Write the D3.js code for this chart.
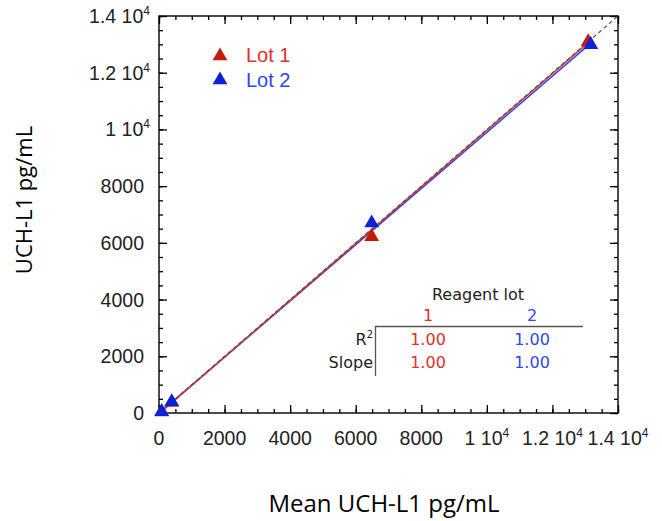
<!DOCTYPE html>
<html><head><meta charset="utf-8">
<script src="https://cdn.jsdelivr.net/npm/d3@7"></script>
<style>body{margin:0;background:#fff}svg{display:block}</style>
</head><body>
<svg id="c" width="662" height="521"></svg>
<script>
const lot1 = [[80,40],[390,370],[6487,6217],[13090,13090]];
const lot2 = [[82,46],[387,398],[6487,6700],[13170,12990]];
const seriesNames = ["Lot 1","Lot 2"];
const xTicks = [0,2000,4000,6000,8000,10000,12000,14000];
const yTicks = [0,2000,4000,6000,8000,10000,12000,14000];
const tickLabels = {0:["0"],2000:["2000"],4000:["4000"],6000:["6000"],8000:["8000"],10000:["1 10","4"],12000:["1.2 10","4"],14000:["1.4 10","4"]};
const tableCols = ["1","2"];
const tableRows = ["R","Slope"];
const tableValues = [["1.00","1.00"],["1.00","1.00"]];

const svg = d3.select("#c");
const L=159,R=618,T=16,B=413;
const x = d3.scaleLinear().domain([0,14000]).range([L,R]);
const y = d3.scaleLinear().domain([0,14000]).range([B,T]);
const minor = d3.range(0,14001,500);
const font = "Liberation Sans, Arial, sans-serif";

function tickSet(axisGen, transform){
  const g = svg.append("g").attr("transform",transform)
    .call(axisGen.tickValues(minor).tickFormat("").tickSize(4).tickSizeOuter(0));
  g.select(".domain").remove();
  g.selectAll("line").attr("stroke","#000").attr("stroke-width",1.3);
  const g2 = svg.append("g").attr("transform",transform)
    .call(axisGen.tickValues(xTicks).tickFormat("").tickSize(8).tickSizeOuter(0));
  g2.select(".domain").remove();
  g2.selectAll("line").attr("stroke","#000").attr("stroke-width",1.3);
}
tickSet(d3.axisTop(x), `translate(0,${B})`);
tickSet(d3.axisBottom(x), `translate(0,${T})`);
tickSet(d3.axisRight(y), `translate(${L},0)`);
tickSet(d3.axisLeft(y), `translate(${R},0)`);
svg.append("rect").attr("x",L).attr("y",T).attr("width",R-L).attr("height",B-T)
  .attr("fill","none").attr("stroke","#000").attr("stroke-width",1.4);

function lab(sel, v){
  const t = tickLabels[v];
  sel.text(t[0]);
  if(t.length>1) sel.append("tspan").attr("dy",-8).attr("font-size",12).text(t[1]);
}
xTicks.forEach(v=>{
  const t = svg.append("text").attr("x",x(v)).attr("y",445).attr("text-anchor","middle")
    .attr("font-family",font).attr("font-size",19.5).attr("fill","#222");
  lab(t,v);
});
yTicks.forEach(v=>{
  const t = svg.append("text").attr("x",v>=10000?150:144).attr("y",y(v)+7).attr("text-anchor","end")
    .attr("font-family",font).attr("font-size",19.5).attr("fill","#222");
  lab(t,v);
});

function fit(d){
  const mx=d3.mean(d,p=>p[0]), my=d3.mean(d,p=>p[1]);
  const b=d3.sum(d,p=>(p[0]-mx)*(p[1]-my))/d3.sum(d,p=>(p[0]-mx)**2);
  return [b,my-b*mx];
}
const colors = ["#e0312a","#2f47f0"];
const markColors = ["#c41a0c","#0a22d6"];
const offs = [[-0.9,-0.9],[0.9,0.9]];
[1,0].forEach(i=>{
  const d=[lot1,lot2][i];
  const [b,a]=fit(d);
  const x0=0, x1=d3.max(d,p=>p[0]);
  svg.append("line").attr("x1",x(x0)).attr("y1",y(a+b*x0)).attr("x2",x(x1)).attr("y2",y(a+b*x1))
    .attr("stroke",colors[i]).attr("stroke-width",1.6).attr("transform",`translate(${offs[i][0]},${offs[i][1]})`);
});
svg.append("line").attr("x1",x(0)).attr("y1",y(0)).attr("x2",x(14000)).attr("y2",y(14000))
  .attr("stroke","#555").attr("stroke-width",1.2).attr("stroke-dasharray","4,3");

const tri = d3.symbol().type(d3.symbolTriangle).size(95);
[lot1,lot2].forEach((d,i)=>{
  svg.append("g").selectAll("path").data(d).join("path")
    .attr("d",tri).attr("transform",p=>`translate(${x(p[0])},${y(p[1])})`)
    .attr("fill",markColors[i]);
});

seriesNames.forEach((n,i)=>{
  svg.append("path").attr("d",tri).attr("transform",`translate(220,${56+i*24})`).attr("fill",markColors[i]);
  svg.append("text").attr("x",246).attr("y",62+i*24.5).attr("font-family",font).attr("font-size",20)
    .attr("fill",colors[i]).text(n);
});

const tf = "DejaVu Sans, sans-serif";
const fs = 16;
svg.append("text").attr("x",478).attr("y",300).attr("text-anchor","middle").attr("font-family",tf)
  .attr("font-size",fs).attr("fill","#222").text("Reagent lot");
const colX=[428,532];
tableCols.forEach((c,i)=>svg.append("text").attr("x",colX[i]).attr("y",321).attr("text-anchor","middle")
  .attr("font-family",tf).attr("font-size",fs).attr("fill",colors[i]).text(c));
svg.append("line").attr("x1",375).attr("x2",583).attr("y1",326.5).attr("y2",326.5).attr("stroke","#555").attr("stroke-width",1.3);
svg.append("line").attr("x1",375.5).attr("x2",375.5).attr("y1",326).attr("y2",376).attr("stroke","#555").attr("stroke-width",1.3);
tableRows.forEach((r,j)=>{
  const t=svg.append("text").attr("x",373).attr("y",345+j*23).attr("text-anchor","end")
    .attr("font-family",tf).attr("font-size",fs).attr("fill","#222").text(r);
  if(j===0) t.append("tspan").attr("dy",-7).attr("font-size",10).text("2");
  tableValues[j].forEach((v,i)=>svg.append("text").attr("x",colX[i]).attr("y",345+j*23).attr("text-anchor","middle")
    .attr("font-family",tf).attr("font-size",fs).attr("fill",colors[i]).text(v));
});

svg.append("text").attr("transform","translate(32,200) rotate(-90)").attr("text-anchor","middle")
  .attr("font-family","Open Sans, sans-serif").attr("font-size",22).attr("fill","#000").text("UCH-L1 pg/mL");
svg.append("text").attr("x",384).attr("y",512).attr("text-anchor","middle")
  .attr("font-family","Open Sans, sans-serif").attr("font-size",24).attr("fill","#000").text("Mean UCH-L1 pg/mL");
</script>
</body></html>
